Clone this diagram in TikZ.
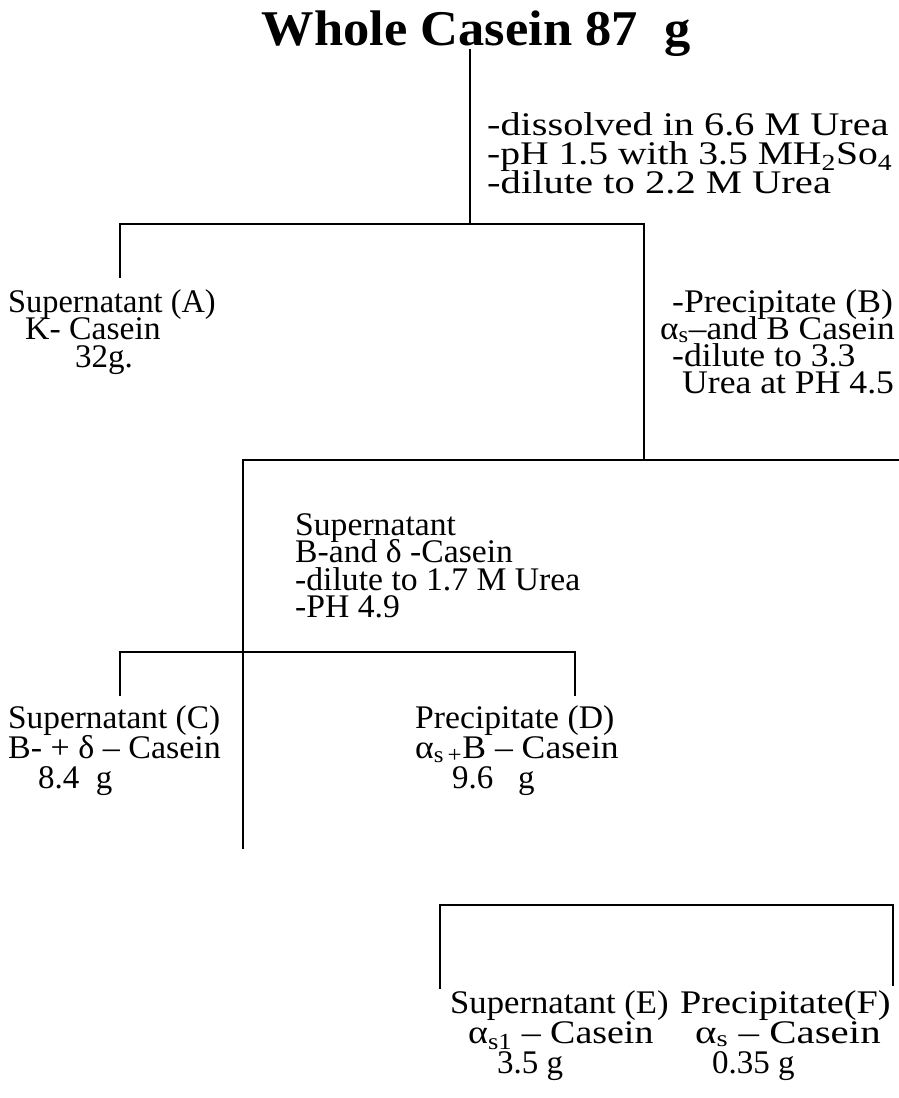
\documentclass[tikz,border=0pt]{standalone}
\usepackage{fontspec}
\usepackage{graphicx}
\setmainfont{Liberation Serif}
\newcommand\sbs[1]{\textsubscript{#1}}
% a block of lines: first baseline is the node's baseline
\newcommand\blk[2]{\vtop{\baselineskip=#1pt\lineskiplimit=-200pt\lineskip=0pt #2}}
% one line: indent, horizontal stretch, text
\newcommand\lin[3]{\hbox{\hspace*{#1pt}\scalebox{#2}[1]{#3}}}
\begin{document}
\begin{tikzpicture}[x=1pt,y=-1pt,
  txt/.style={anchor=base west, inner sep=0pt, font=\fontsize{33}{29}\selectfont},
  ln/.style={line width=1.7pt, line cap=rect}]
\useasboundingbox (0,0) rectangle (898,1098);
% title
\node[anchor=base, inner sep=0pt, font=\bfseries\fontsize{50}{54}\selectfont] (title) at (476,45) {\scalebox{1.05}[1]{Whole Casein 87\ \ g}};
% step 1 conditions
\node[txt] (cond) at (487,135) {\blk{29}{%
  \lin{0}{1.22}{-dissolved in 6.6 M Urea}%
  \lin{0}{1.20}{-pH 1.5 with 3.5 MH\sbs{2}So\sbs{4}}%
  \lin{0}{1.23}{-dilute to 2.2 M Urea}}};
% A
\node[txt] (A) at (8,312) {\blk{27.5}{%
  \lin{0}{0.98}{Supernatant (A)}%
  \lin{17}{1.02}{K- Casein}%
  \lin{67}{1}{32g.}}};
% B
\node[txt] (B) at (660,312) {\blk{27}{%
  \lin{12}{1.08}{-Precipitate (B)}%
  \lin{0}{1.07}{α\sbs{s}–and B Casein}%
  \lin{12}{1.08}{-dilute to 3.3}%
  \lin{22}{1.08}{Urea at PH 4.5}}};
% supernatant middle
\node[txt] (M) at (295,535) {\blk{27.5}{%
  \lin{0}{1.02}{Supernatant}%
  \lin{0}{1.02}{B-and δ -Casein}%
  \lin{0}{1.02}{-dilute to 1.7 M Urea}%
  \lin{0}{1.02}{-PH 4.9}}};
% C
\node[txt] (C) at (8,728) {\blk{30}{%
  \lin{0}{1.01}{Supernatant (C)}%
  \lin{0}{1.03}{B- + δ – Casein}%
  \lin{30}{1}{8.4\ \ g}}};
% D
\node[txt] (D) at (415,728) {\blk{30}{%
  \lin{0}{1.02}{Precipitate (D)}%
  \lin{0}{1.08}{α\sbs{s\,+}B – Casein}%
  \lin{37}{1}{9.6\ \ \ g}}};
% E
\node[txt] (E) at (450,1013) {\blk{30}{%
  \lin{0}{1.05}{Supernatant (E)}%
  \lin{18}{1.15}{α\sbs{s1} – Casein}%
  \lin{47}{1}{3.5 g}}};
% F
\node[txt] (F) at (680,1013) {\blk{30}{%
  \lin{0}{1.16}{Precipitate(F)}%
  \lin{15}{1.24}{α\sbs{s} – Casein}%
  \lin{32}{1}{0.35 g}}};
% junction coordinates
\coordinate (t0) at (470,50);
\coordinate (t1) at (470,224);
\coordinate (hAl) at (120,224);
\coordinate (hAr) at (644,224);
\coordinate (Aend) at (120,277);
\coordinate (Bj) at (644,460);
\coordinate (hBl) at (243,460);
\coordinate (hBr) at (898,460);
\coordinate (Send) at (243,848);
\coordinate (hCl) at (120,652);
\coordinate (hCr) at (575,652);
\coordinate (Cend) at (120,695);
\coordinate (Dend) at (575,695);
\coordinate (hEl) at (440,905);
\coordinate (hEr) at (893,905);
\coordinate (Eend) at (440,988);
\coordinate (Fend) at (893,985);
% connectors
\draw[ln] (t0) -- (t1);
\draw[ln] (Aend) -- (hAl) -- (hAr) -- (Bj);
\draw[ln] (hBr) -- (hBl) -- (Send);
\draw[ln] (Cend) -- (hCl) -- (hCr) -- (Dend);
\draw[ln] (Eend) -- (hEl) -- (hEr) -- (Fend);
\end{tikzpicture}
\end{document}
